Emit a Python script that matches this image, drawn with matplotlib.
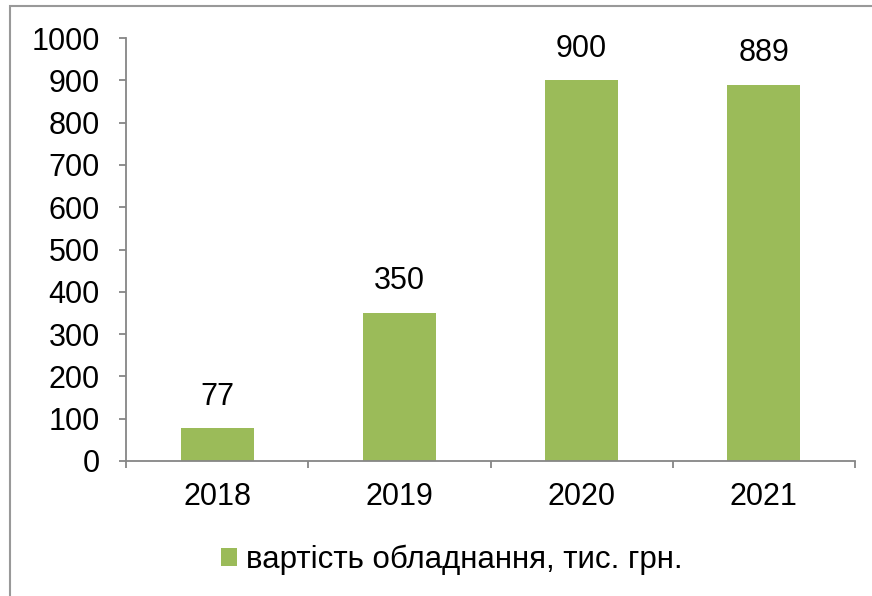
import matplotlib.pyplot as plt
from matplotlib.patches import Rectangle

years = ["2018", "2019", "2020", "2021"]
values = [77, 350, 900, 889]
legend_label = "вартість обладнання, тис. грн."

plt.rcParams['font.family'] = ['Liberation Sans', 'DejaVu Sans']

fig = plt.figure(figsize=(8.72, 5.96), dpi=100)
ax = fig.add_axes([126/872, 1 - 461/596, 729/872, 423/596])

x = range(len(years))
bars = ax.bar(x, values, width=0.4, color="#9BBB59", label=legend_label)

for xi, v in zip(x, values):
    ax.annotate(str(v), (xi, v), xytext=(0, 12), textcoords="offset points",
                ha="center", va="bottom", fontsize=22)

ax.set_xlim(-0.5, len(years) - 0.5)
ax.set_ylim(0, 1000)
ax.set_yticks(range(0, 1001, 100))
ax.set_xticks(list(x))
ax.set_xticklabels(years)
ax.set_xticks([i - 0.5 for i in range(len(years) + 1)], minor=True)

grey = "#868686"
for s in ["top", "right"]:
    ax.spines[s].set_visible(False)
for s in ["left", "bottom"]:
    ax.spines[s].set_color(grey)
    ax.spines[s].set_linewidth(1.3)

ax.tick_params(axis="y", direction="out", length=5, color=grey, width=1.3,
               labelsize=22, pad=14)
ax.tick_params(axis="x", which="major", length=0, labelsize=22, pad=15)
ax.tick_params(axis="x", which="minor", direction="out", length=5,
               color=grey, width=1.3)

fig.legend(handles=[bars], labels=[legend_label], loc="center",
           bbox_to_anchor=(452/872, 1 - 560/596), frameon=False,
           fontsize=22.5, handlelength=0.5, handleheight=0.5, handletextpad=0.3)

# outer chart border
fig.patches.append(Rectangle((10/872, -0.05), 1.0, 1 - 6/596 + 0.05,
                             transform=fig.transFigure, fill=False,
                             edgecolor="#999999", linewidth=1.5))

fig.savefig("out.png", dpi=100)
